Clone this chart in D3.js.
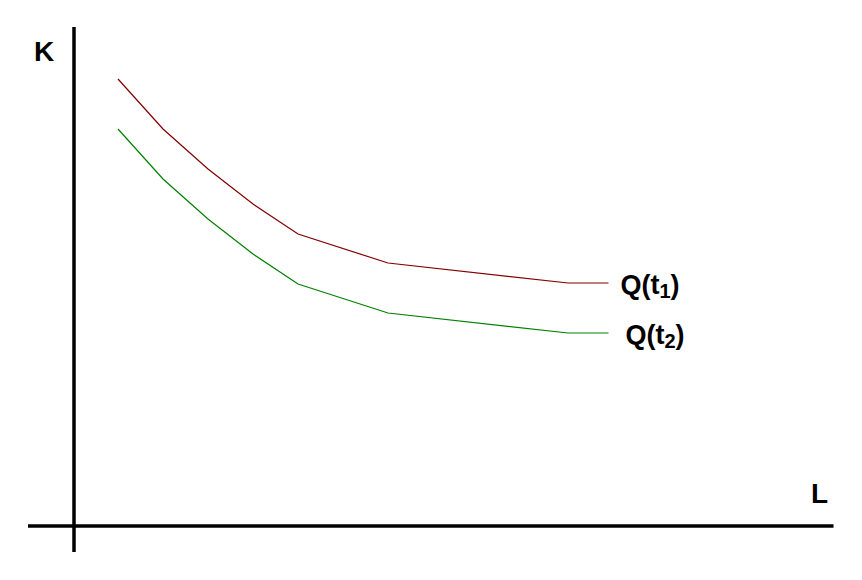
<!DOCTYPE html>
<html>
<head>
<meta charset="utf-8">
<script src="https://cdn.jsdelivr.net/npm/d3@7"></script>
<style>
  body { margin: 0; background: #fff; }
  text { font-family: "Liberation Sans", Arial, sans-serif; font-weight: bold; fill: #000; }
</style>
</head>
<body>
<script>
// isoquant points, L on x, K on y
let labour = [1, 2, 3, 4, 5, 7, 11, 11.9];
let capitalT1 = [89.4, 79.4, 71.4, 64.4, 58.4, 52.6, 48.6, 48.6];
let capitalT2 = [79.4, 69.4, 61.4, 54.4, 48.4, 42.6, 38.6, 38.6];
let seriesNames = ["Q(t1)", "Q(t2)"];
let colors = ["#800000", "#008000"];

let w = 862;
let h = 580;

let xScale = d3.scaleLinear()
               .domain([0, 17])
               .range([73, 838]);

let yScale = d3.scaleLinear()
               .domain([0, 100])
               .range([526, 26]);

let svg = d3.select("body")
            .append("svg")
            .attr("width", w)
            .attr("height", h);

// axes
svg.append("line")
   .attr("x1", xScale(-1)).attr("x2", xScale(16.9))
   .attr("y1", yScale(0)).attr("y2", yScale(0))
   .attr("stroke", "black").attr("stroke-width", 3.5);

svg.append("line")
   .attr("x1", xScale(0) + 1).attr("x2", xScale(0) + 1)
   .attr("y1", yScale(-5.2)).attr("y2", yScale(99.8))
   .attr("stroke", "black").attr("stroke-width", 3.5);

svg.append("text").attr("x", 34).attr("y", 61).style("font-size", "28px").text("K");
svg.append("text").attr("x", 811).attr("y", 503).style("font-size", "28px").text("L");

let line = d3.line()
             .x((d, i) => xScale(labour[i]))
             .y(d => yScale(d));

[capitalT1, capitalT2].forEach((s, k) => {
  svg.append("path")
     .attr("d", line(s))
     .attr("fill", "none")
     .attr("stroke", colors[k])
     .attr("stroke-width", 1.2);

  let last = s.length - 1;
  let t = svg.append("text")
             .attr("x", xScale(labour[last]) + 12 + k * 5)
             .attr("y", yScale(s[last]) + 11)
             .style("font-size", "27px");
  t.append("tspan").text("Q(t");
  t.append("tspan").attr("dy", 4).style("font-size", "20px").text(seriesNames[k].slice(3, 4));
  t.append("tspan").attr("dy", -4).text(")");
});
</script>
</body>
</html>
